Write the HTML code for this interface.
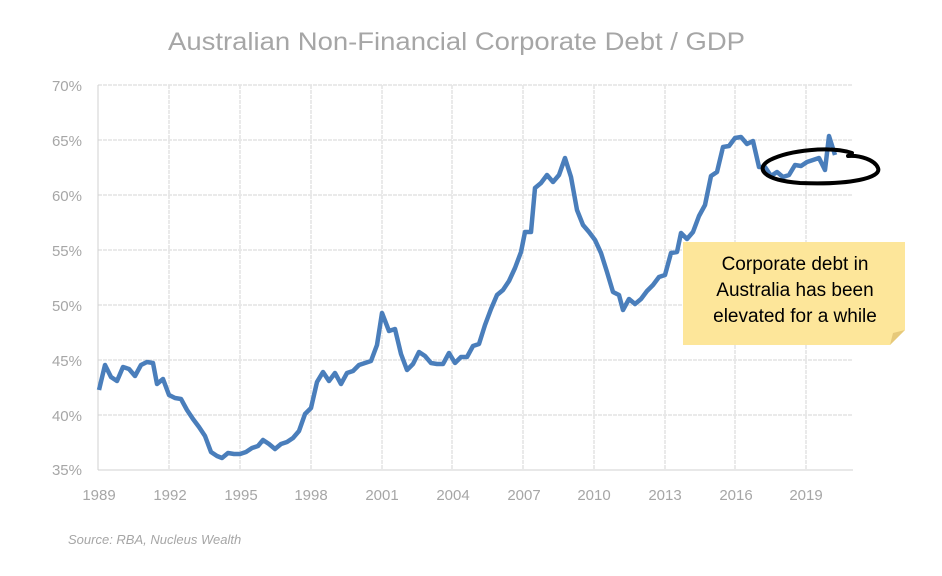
<!DOCTYPE html>
<html><head><style>
body{margin:0;background:#fff;}
</style></head><body>
<svg width="942" height="571" xmlns="http://www.w3.org/2000/svg" font-family="Liberation Sans, sans-serif">
<rect width="942" height="571" fill="#fff"/>
<text x="168" y="50" textLength="577" lengthAdjust="spacingAndGlyphs" font-size="25" fill="#a6a6a6">Australian Non-Financial Corporate Debt / GDP</text>
<g stroke="#e4e4e4" stroke-width="1.5" stroke-dasharray="4,1">
<line x1="98" y1="85" x2="853" y2="85"/><line x1="98" y1="140" x2="853" y2="140"/><line x1="98" y1="195" x2="853" y2="195"/><line x1="98" y1="250" x2="853" y2="250"/><line x1="98" y1="305" x2="853" y2="305"/><line x1="98" y1="360" x2="853" y2="360"/><line x1="98" y1="415" x2="853" y2="415"/>
<line x1="169" y1="85" x2="169" y2="470"/><line x1="240" y1="85" x2="240" y2="470"/><line x1="311" y1="85" x2="311" y2="470"/><line x1="382" y1="85" x2="382" y2="470"/><line x1="452" y1="85" x2="452" y2="470"/><line x1="523" y1="85" x2="523" y2="470"/><line x1="594" y1="85" x2="594" y2="470"/><line x1="665" y1="85" x2="665" y2="470"/><line x1="735" y1="85" x2="735" y2="470"/><line x1="806" y1="85" x2="806" y2="470"/>
</g>
<line x1="98" y1="470" x2="853" y2="470" stroke="#d0d0d0" stroke-width="1"/>
<line x1="98" y1="85" x2="98" y2="470" stroke="#d0d0d0" stroke-width="1"/>
<g font-size="15" fill="#a6a6a6" text-anchor="end">
<text x="82" y="91">70%</text><text x="82" y="146">65%</text><text x="82" y="201">60%</text><text x="82" y="256">55%</text><text x="82" y="311">50%</text><text x="82" y="366">45%</text><text x="82" y="421">40%</text><text x="82" y="475">35%</text>
</g>
<g font-size="15" fill="#a6a6a6" text-anchor="middle">
<text x="99" y="500">1989</text><text x="170" y="500">1992</text><text x="241" y="500">1995</text><text x="311" y="500">1998</text><text x="382" y="500">2001</text><text x="453" y="500">2004</text><text x="524" y="500">2007</text><text x="594" y="500">2010</text><text x="665" y="500">2013</text><text x="736" y="500">2016</text><text x="806" y="500">2019</text>
</g>
<polyline fill="none" stroke="#4a7ebb" stroke-width="4.5" stroke-linejoin="round" points="99,390 105,365 111,377 117,381 123,367 129,369 135,376 141,365 147,362 153,363 157,384 163,379 169,395 175,398 181,399 187,410 193,419 199,427 205,436 211,452 217,456 222,458 228,453 234,454 240,454 246,452 252,448 258,446 263,440 269,444 275,449 281,444 287,442 293,438 299,431 305,414 311,408 317,382 323,372 329,381 335,373 341,384 347,373 353,371 359,365 365,363 371,361 377,345 382,313 389,331 395,329 401,354 407,370 413,364 419,352 425,356 431,363 437,364 443,364 449,353 455,363 461,357 467,357 473,346 479,344 485,325 491,309 497,295 503,290 509,281 515,268 521,252 525,232 531,232 535,188 541,183 547,175 553,182 559,175 565,158 571,177 577,210 583,225 589,232 595,240 601,253 607,272 613,292 619,295 623,310 629,299 635,304 641,299 647,291 653,285 659,277 665,275 671,253 677,252 681,233 687,239 693,232 699,216 705,205 711,176 717,172 723,147 729,146 735,138 741,137 747,144 753,141 759,167 765,167 771,176 777,172 783,177 789,175 795,165 801,166 807,162 813,160 819,158 825,170 829,136 835,155"/>
<path d="M852,153 C830,146 790,150 770,160 C755,168 762,180 800,183 C850,185 882,178 878,168 C875,160 860,155 848,156" fill="none" stroke="#000" stroke-width="4" stroke-linecap="round"/>
<path d="M683,242 H905 V330 L890,345 H683 Z" fill="#fde69a"/>
<path d="M905,330 L890,345 L893,333 Z" fill="#e6c97a"/>
<g font-size="19" fill="#000" text-anchor="middle" font-family="Liberation Sans Narrow, Liberation Sans, sans-serif">
<text x="795" y="270">Corporate debt in</text><text x="795" y="296">Australia has been</text><text x="795" y="322">elevated for a while</text>
</g>
<text x="68" y="544" font-size="13" font-style="italic" fill="#a6a6a6">Source: RBA, Nucleus Wealth</text>
</svg>
</body></html>
